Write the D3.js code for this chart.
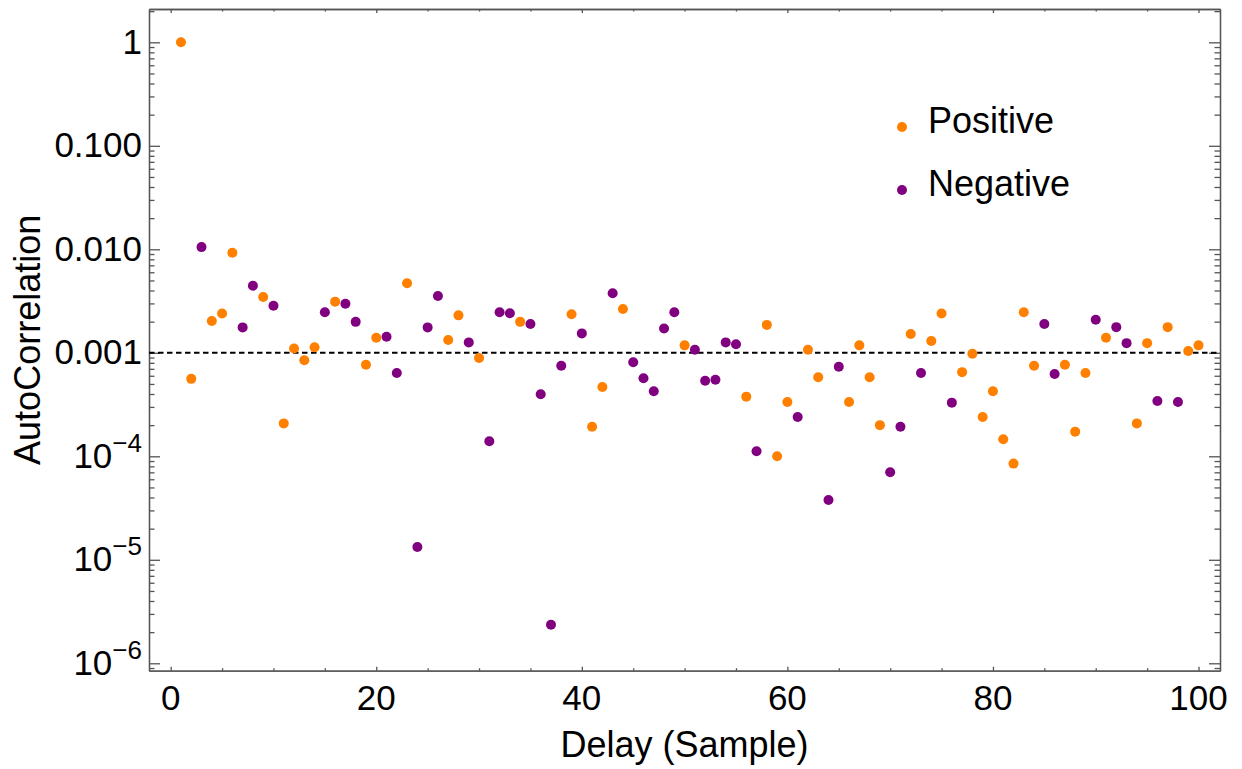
<!DOCTYPE html>
<html>
<head>
<meta charset="utf-8">
<script src="https://cdn.jsdelivr.net/npm/d3@7"></script>
<style>
  body { margin: 0; background: #fff; }
  svg { display: block; font-family: "Liberation Sans", Arial, sans-serif; }
  .frame path.domain, .frame line { stroke: #555; stroke-width: 1.3; }
</style>
</head>
<body>
<svg id="chart" width="1242" height="769"></svg>
<script>
// |autocorrelation| for delays 1..100, with sign (1 = positive, -1 = negative)
var delays = d3.range(1, 101);
var magnitude = [
  1.0, 5.6e-4, 0.0105, 0.00203, 0.0024, 0.00927, 0.00176, 0.00445, 0.00346, 0.00285,
  2.08e-4, 0.0011, 8.47e-4, 0.00113, 0.00246, 0.00312, 0.00298, 0.00199, 7.67e-4, 0.0014,
  0.00143, 6.38e-4, 0.00469, 1.33e-5, 0.00176, 0.00354, 0.00133, 0.0023, 0.00126, 8.9e-4,
  1.4e-4, 0.00246, 0.00241, 0.00199, 0.0019, 3.97e-4, 2.36e-6, 7.5e-4, 0.00236, 0.00154,
  1.93e-4, 4.68e-4, 0.00376, 0.00265, 8.09e-4, 5.67e-4, 4.25e-4, 0.00172, 0.00246, 0.00118,
  0.00107, 5.38e-4, 5.5e-4, 0.00126, 0.00121, 3.77e-4, 1.12e-4, 0.00186, 1.0e-4, 3.35e-4,
  2.4e-4, 0.00107, 5.8e-4, 3.78e-5, 7.34e-4, 3.35e-4, 0.00118, 5.8e-4, 2.0e-4, 7.0e-5,
  1.93e-4, 0.00152, 6.38e-4, 0.0013, 0.0024, 3.3e-4, 6.5e-4, 9.8e-4, 2.4e-4, 4.25e-4,
  1.46e-4, 8.5e-5, 0.00246, 7.5e-4, 0.0019, 6.24e-4, 7.67e-4, 1.73e-4, 6.38e-4, 0.00209,
  0.0014, 0.00177, 0.00124, 2.08e-4, 0.00124, 3.42e-4, 0.00177, 3.35e-4, 0.00104, 0.00118
];
var sign = [
   1,  1, -1,  1,  1,  1, -1, -1,  1, -1,
   1,  1,  1,  1, -1,  1, -1, -1,  1,  1,
  -1, -1,  1, -1, -1, -1,  1,  1, -1,  1,
  -1, -1, -1,  1, -1, -1, -1, -1,  1, -1,
   1,  1, -1,  1, -1, -1, -1, -1, -1,  1,
  -1, -1, -1, -1, -1,  1, -1,  1,  1,  1,
  -1,  1,  1, -1, -1,  1,  1,  1,  1, -1,
  -1,  1, -1,  1,  1, -1,  1,  1,  1,  1,
   1,  1,  1,  1, -1, -1,  1,  1,  1, -1,
   1, -1, -1,  1,  1, -1,  1, -1,  1,  1
];
var threshold = 0.001;
var xTicks = [0, 20, 40, 60, 80, 100];
var yTicks = [1, 0.1, 0.01, 0.001, 1e-4, 1e-5, 1e-6];
var yTickLabels = ["1", "0.100", "0.010", "0.001", "10|\u22124", "10|\u22125", "10|\u22126"];
var seriesNames = ["Positive", "Negative"];
var seriesColors = ["#ff8000", "#800080"];

var svg = d3.select("#chart");
var pLeft = 149, pRight = 1220, pTop = 9, pBottom = 670.7;

var x = d3.scaleLinear().domain([-2.11, 102.09]).range([pLeft, pRight]);
var y = d3.scaleLog().domain([8.48e-7, 2.098]).range([pBottom, pTop]);

var points = delays.map(function(d, i) {
  return {lag: d, val: magnitude[i], s: sign[i] > 0 ? 0 : 1};
});

// minor ticks
var xMinor = d3.range(0, 101, 5).filter(function(v) { return xTicks.indexOf(v) < 0; });
var yMinor = [];
for (var e = -7; e <= 0; e++) {
  for (var m = 2; m <= 9; m++) {
    var v = m * Math.pow(10, e);
    if (v > y.domain()[0] && v < y.domain()[1]) yMinor.push(v);
  }
}

function addAxis(axis, tx, ty) {
  svg.append("g").attr("class", "frame")
    .attr("transform", "translate(" + tx + "," + ty + ")")
    .call(axis)
    .call(function(g) { g.selectAll("text").remove(); });
}

addAxis(d3.axisBottom(x).tickValues(xTicks).tickSize(-4).tickSizeOuter(0), 0, pBottom);
addAxis(d3.axisBottom(x).tickValues(xMinor).tickSize(-2.5).tickSizeOuter(0), 0, pBottom);
addAxis(d3.axisTop(x).tickValues(xTicks).tickSize(-4).tickSizeOuter(0), 0, pTop);
addAxis(d3.axisTop(x).tickValues(xMinor).tickSize(-2.5).tickSizeOuter(0), 0, pTop);
addAxis(d3.axisLeft(y).tickValues(yTicks).tickSize(-11).tickSizeOuter(0), pLeft, 0);
addAxis(d3.axisLeft(y).tickValues(yMinor).tickSize(-5.5).tickSizeOuter(0), pLeft, 0);
addAxis(d3.axisRight(y).tickValues(yTicks).tickSize(-11).tickSizeOuter(0), pRight, 0);
addAxis(d3.axisRight(y).tickValues(yMinor).tickSize(-5.5).tickSizeOuter(0), pRight, 0);

// x tick labels
svg.append("g").selectAll("text")
  .data(xTicks)
  .enter().append("text")
    .attr("x", function(d) { return x(d); })
    .attr("y", 710)
    .attr("text-anchor", "middle")
    .style("font-size", "35px")
    .text(function(d) { return d; });

// y tick labels, powers of ten with superscripts
var ylab = svg.append("g").selectAll("text")
  .data(yTicks)
  .enter().append("text")
    .attr("x", 142)
    .attr("y", function(d) { return y(d) + 11.5; })
    .attr("text-anchor", "end")
    .style("font-size", "35px");
ylab.each(function(d, i) {
  var parts = yTickLabels[i].split("|");
  var t = d3.select(this);
  t.append("tspan").text(parts[0]);
  if (parts.length > 1) {
    t.append("tspan").attr("dy", -16).style("font-size", "26px").text(parts[1]);
  }
});

// dashed reference line
svg.append("line")
  .attr("x1", pLeft).attr("x2", pRight)
  .attr("y1", y(threshold)).attr("y2", y(threshold))
  .attr("stroke", "#000")
  .attr("stroke-width", 2)
  .attr("stroke-dasharray", "5.5,3.5");

// points
svg.append("g").selectAll("circle")
  .data(points)
  .enter().append("circle")
    .attr("cx", function(d) { return x(d.lag); })
    .attr("cy", function(d) { return y(d.val); })
    .attr("r", 5)
    .attr("fill", function(d) { return seriesColors[d.s]; });

// legend
var leg = svg.append("g").selectAll("g")
  .data(seriesNames)
  .enter().append("g")
    .attr("transform", function(d, i) { return "translate(902," + (127 + i * 63) + ")"; });
leg.append("circle").attr("r", 5).attr("fill", function(d, i) { return seriesColors[i]; });
leg.append("text")
  .attr("x", 26).attr("y", 6)
  .style("font-size", "36px")
  .text(function(d) { return d; });

// axis titles
svg.append("text")
  .attr("x", (pLeft + pRight) / 2).attr("y", 757)
  .attr("text-anchor", "middle")
  .style("font-size", "36px")
  .text("Delay (Sample)");

svg.append("text")
  .attr("transform", "translate(40," + ((pTop + pBottom) / 2) + ") rotate(-90)")
  .attr("text-anchor", "middle")
  .style("font-size", "36px")
  .text("AutoCorrelation");
</script>
</body>
</html>
